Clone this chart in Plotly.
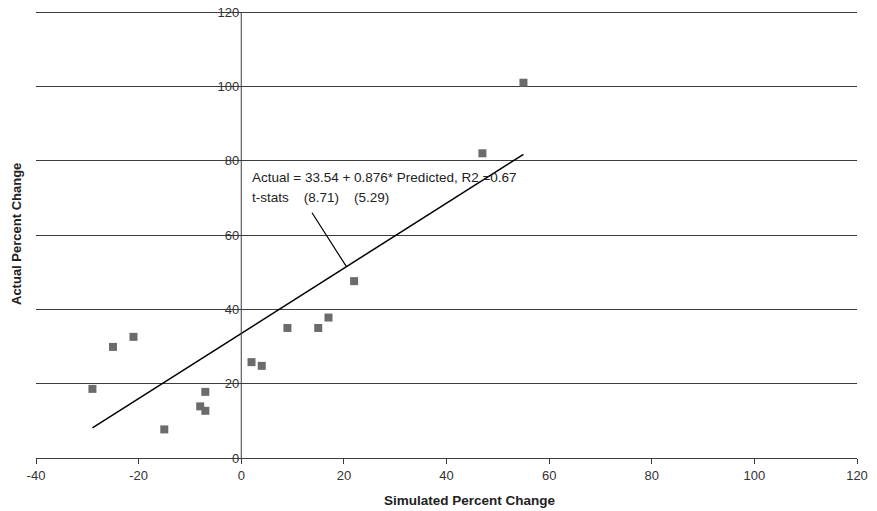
import plotly.graph_objects as go

sim_change = [55, 47, 22, 17, 15, 9, 2, 4, -7, -8, -7, -15, -21, -25, -29]
act_change = [101, 82, 47.6, 37.8, 35, 35, 25.8, 24.8, 17.8, 13.9, 12.7, 7.7, 32.6, 29.9, 18.6]

intercept = 33.54
slope = 0.876
fit_x = [min(sim_change), max(sim_change)]
fit_y = [intercept + slope * v for v in fit_x]

eq_line1 = "Actual = 33.54 + 0.876* Predicted, R2 =0.67"
eq_line2 = "t-stats    (8.71)    (5.29)"

x_ticks = [-40, -20, 0, 20, 40, 60, 80, 100, 120]
x_tick_labels = ["-40", "-20", "0", "20", "40", "60", "80", "100", "120"]
y_ticks = [0, 20, 40, 60, 80, 100, 120]

FONT = "Liberation Sans, Arial, sans-serif"
GRID = "#3c3c3c"

fig = go.Figure()
fig.add_trace(go.Scatter(x=sim_change, y=act_change, mode="markers",
                         marker=dict(symbol="square", size=8, color="#6b6b6b"),
                         showlegend=False, cliponaxis=False))
fig.add_trace(go.Scatter(x=fit_x, y=fit_y, mode="lines",
                         line=dict(color="black", width=1.5), showlegend=False))

# pointer from equation text to the fitted line
px_target = 20.5
fig.add_annotation(x=px_target, y=intercept + slope * px_target, ax=13.6, ay=66.4,
                   axref="x", ayref="y", xref="x", yref="y", showarrow=True,
                   arrowhead=0, arrowwidth=1.2, arrowcolor="black", text="")
fig.add_annotation(x=1.8, y=75.4, xref="x", yref="y", text=eq_line1, showarrow=False,
                   xanchor="left", yanchor="middle", font=dict(family=FONT, size=13.5, color="#222"))
fig.add_annotation(x=1.8, y=70.1, xref="x", yref="y", text=eq_line2, showarrow=False,
                   xanchor="left", yanchor="middle", font=dict(family=FONT, size=13.5, color="#222"))

fig.add_annotation(x=-0.0341, y=0.5, xref="paper", yref="paper", text="<b>Actual Percent Change</b>",
                   textangle=-90, showarrow=False, xanchor="left", yanchor="middle", borderpad=0,
                   font=dict(family=FONT, size=13, color="#222"))
fig.add_annotation(x=0.529, y=-0.096, xref="paper", yref="paper", text="<b>Simulated Percent Change</b>",
                   showarrow=False, xanchor="center", yanchor="middle",
                   font=dict(family=FONT, size=13.5, color="#222"))

fig.update_layout(
    width=877, height=511,
    margin=dict(l=36, r=20, t=11, b=53, autoexpand=False),
    paper_bgcolor="white", plot_bgcolor="white",
    font=dict(family=FONT, size=13, color="#333"),
    xaxis=dict(range=[-40, 120], tickvals=x_ticks, ticktext=x_tick_labels, showgrid=False,
               zeroline=False, automargin=False,
               showline=True, linecolor=GRID, linewidth=1, ticks="outside", ticklen=5,
               tickcolor=GRID, tickfont=dict(family=FONT, size=13, color="#333")),
    yaxis=dict(range=[0, 120.3], tickvals=y_ticks, showgrid=True, gridcolor=GRID, gridwidth=1,
               zeroline=False, showline=False, automargin=False,
               anchor="free", position=0.25, ticks="", ticklabelstandoff=2,
               ticklabeloverflow="allow",
               tickfont=dict(family=FONT, size=13, color="#333")),
)
# vertical axis line through x = 0, spanning the full y range
fig.add_trace(go.Scatter(x=[0, 0], y=[y_ticks[0], y_ticks[-1]], mode="lines",
                         line=dict(color=GRID, width=1), showlegend=False, hoverinfo="skip"))

fig.write_html("out.html", config={"displayModeBar": False},
               post_script="document.body.style.margin='0';")
